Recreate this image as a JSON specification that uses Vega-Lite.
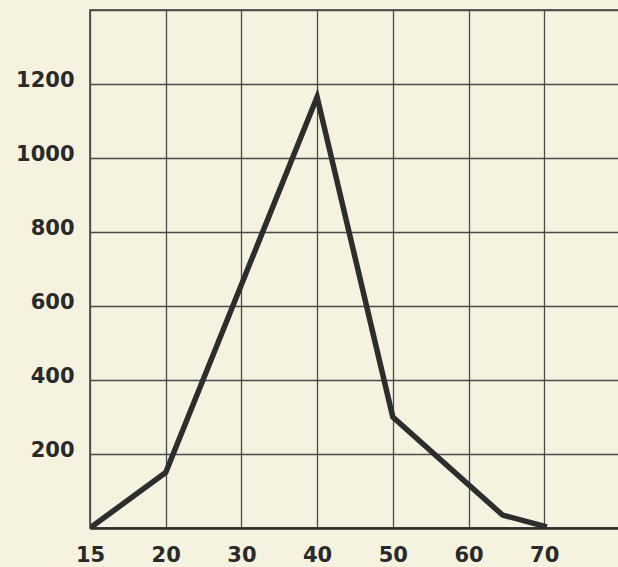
{
  "$schema": "https://vega.github.io/schema/vega-lite/v6.json",
  "autosize": {"type": "none"},
  "padding": {"left": 90, "top": 10, "right": 0, "bottom": 39},
  "width": 530,
  "height": 518,
  "background": "#f5f2e0",
  "config": {
    "view": {"stroke": "#3a3a3a", "strokeWidth": 1.5, "fill": "#f5f2e0"},
    "axis": {
      "labelFont": "DejaVu Sans",
      "labelFontSize": 21,
      "labelFontWeight": "bold",
      "labelColor": "#2a2a2a",
      "gridColor": "#4a4a4a",
      "gridWidth": 1.3,
      "gridOpacity": 1,
      "domain": false,
      "ticks": false,
      "title": null
    }
  },
  "data": {
    "values": [
      {"x": 15, "y": 0},
      {"x": 20, "y": 150},
      {"x": 40, "y": 1165},
      {"x": 50, "y": 300},
      {"x": 64.5, "y": 35},
      {"x": 70, "y": 5}
    ]
  },
  "mark": {"type": "line", "color": "#2d2d2d", "strokeWidth": 5.5, "strokeJoin": "miter", "strokeCap": "square", "clip": true},
  "encoding": {
    "x": {
      "field": "x",
      "type": "quantitative",
      "scale": {
        "domain": [15, 20, 30, 40, 50, 60, 70, 80],
        "range": [0, 75.7, 151.4, 227.1, 302.8, 378.5, 454.2, 530],
        "nice": false,
        "zero": false
      },
      "axis": {
        "values": [15, 20, 30, 40, 50, 60, 70],
        "labelPadding": 16,
        "labelAlign": "center",
        "format": "d",
        "domain": true,
        "domainColor": "#2d2d2d",
        "domainWidth": 2.5
      }
    },
    "y": {
      "field": "y",
      "type": "quantitative",
      "scale": {"domain": [0, 1400], "nice": false},
      "axis": {
        "values": [0, 200, 400, 600, 800, 1000, 1200, 1400],
        "labelExpr": "datum.value == 0 || datum.value == 1400 ? '' : datum.label",
        "format": "d",
        "labelPadding": 16,
        "labelOffset": -4
      }
    }
  }
}
